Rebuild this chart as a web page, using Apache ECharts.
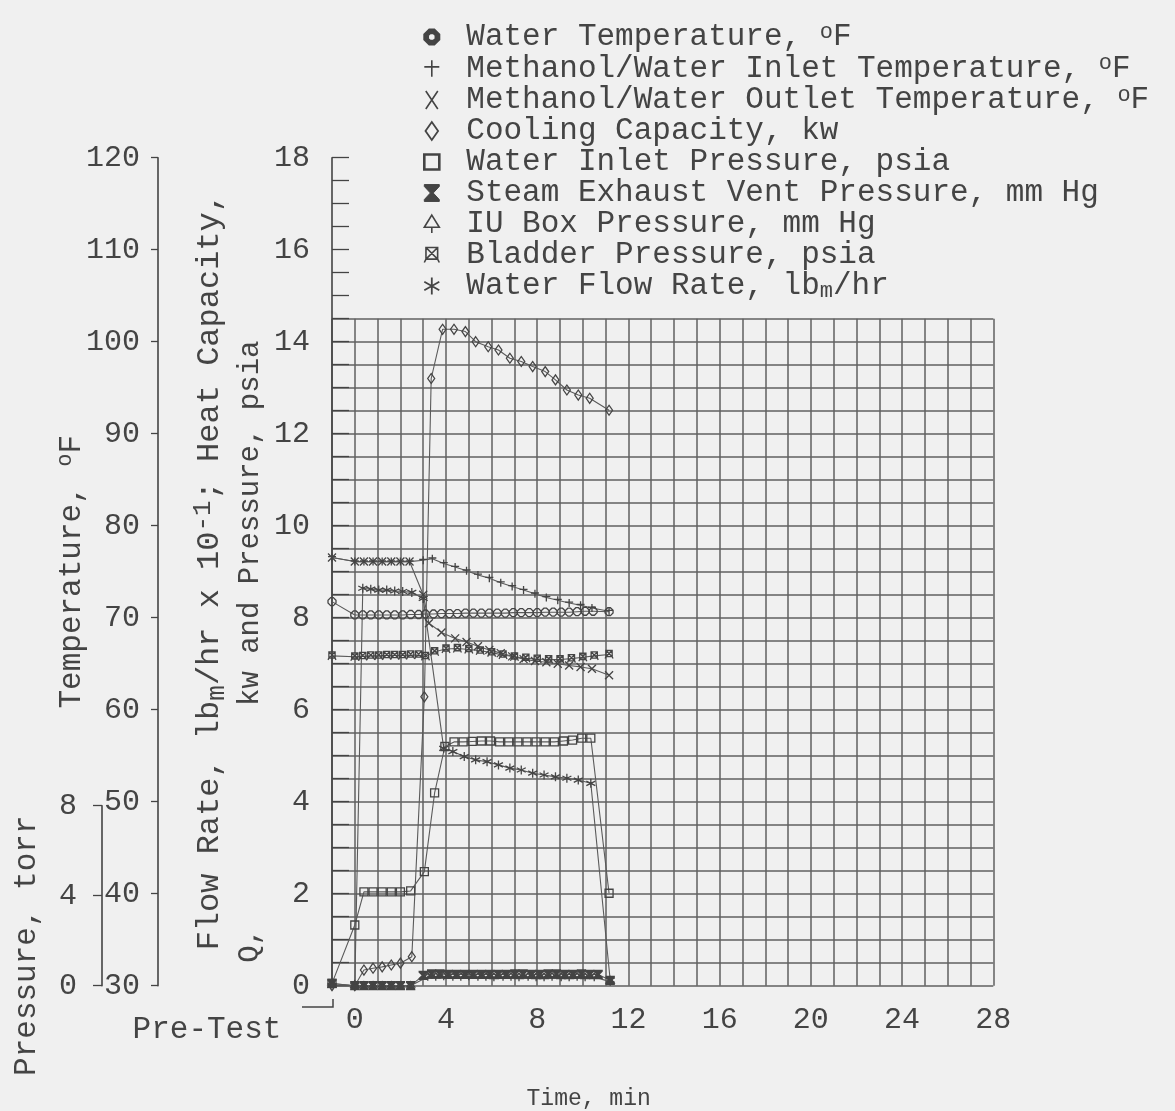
<!DOCTYPE html>
<html>
<head>
<meta charset="utf-8">
<script src="https://cdn.jsdelivr.net/npm/echarts@6/dist/echarts.min.js"></script>
<style>
html,body{margin:0;padding:0;background:#f0f0f0;}
#c{width:1175px;height:1111px;}
</style>
</head>
<body>
<div id="c"></div>
<script>
// ---------------- DATA ----------------
// Time in minutes (-1 = pre-test point)
const waterTempTime = [-1, 0, 0.35, 0.7, 1.05, 1.4, 1.75, 2.1, 2.45, 2.8, 3.1, 3.45, 3.8, 4.15, 4.5, 4.85, 5.2, 5.55, 5.9, 6.25, 6.6, 6.95, 7.3, 7.65, 8.0, 8.35, 8.7, 9.05, 9.4, 9.75, 10.1, 10.45, 11.15];
const waterTempF    = [71.75, 70.3, 70.3, 70.3, 70.3, 70.3, 70.3, 70.3, 70.35, 70.35, 70.4, 70.4, 70.45, 70.45, 70.45, 70.5, 70.5, 70.5, 70.5, 70.5, 70.5, 70.55, 70.55, 70.55, 70.55, 70.6, 70.6, 70.6, 70.6, 70.65, 70.7, 70.7, 70.65];

const inletTime = [-1, 0, 0.4, 0.8, 1.2, 1.6, 2.0, 2.4, 3.0, 3.4, 3.9, 4.4, 4.9, 5.4, 5.9, 6.4, 6.9, 7.4, 7.9, 8.4, 8.9, 9.4, 9.9, 10.4, 11.15];
const inletF    = [76.55, 76.1, 76.1, 76.1, 76.1, 76.1, 76.1, 76.1, 76.25, 76.4, 75.9, 75.5, 75.1, 74.65, 74.3, 73.8, 73.4, 73.0, 72.6, 72.2, 71.9, 71.6, 71.35, 71.05, 70.7];

const outletTime = [-1, 0, 0.4, 0.8, 1.2, 1.6, 2.0, 2.4, 3.0, 3.25, 3.8, 4.4, 4.9, 5.4, 5.9, 6.4, 6.9, 7.4, 7.9, 8.4, 8.9, 9.4, 9.9, 10.4, 11.15];
const outletF    = [76.55, 76.1, 76.1, 76.1, 76.1, 76.1, 76.1, 76.1, 72.5, 69.4, 68.4, 67.75, 67.35, 66.9, 66.5, 66.15, 65.8, 65.5, 65.3, 65.15, 65.0, 64.8, 64.65, 64.45, 63.75];

const coolTime = [-1, 0, 0.4, 0.8, 1.2, 1.6, 2.0, 2.5, 3.05, 3.35, 3.85, 4.35, 4.85, 5.3, 5.85, 6.3, 6.8, 7.3, 7.8, 8.35, 8.8, 9.3, 9.8, 10.3, 11.15];
const coolKw   = [0, 0, 0.34, 0.38, 0.41, 0.45, 0.49, 0.63, 6.28, 13.2, 14.27, 14.27, 14.22, 14.0, 13.89, 13.82, 13.64, 13.57, 13.46, 13.35, 13.17, 12.95, 12.84, 12.77, 12.51];

const inletPressTime = [-1, 0, 0.4, 0.8, 1.2, 1.6, 2.0, 2.45, 3.05, 3.5, 3.95, 4.35, 4.75, 5.15, 5.55, 5.95, 6.35, 6.75, 7.15, 7.55, 7.95, 8.35, 8.75, 9.15, 9.55, 9.95, 10.35, 11.15];
const inletPressPsia = [0.05, 1.32, 2.04, 2.04, 2.04, 2.04, 2.04, 2.06, 2.48, 4.19, 5.2, 5.3, 5.3, 5.31, 5.32, 5.32, 5.3, 5.3, 5.3, 5.3, 5.3, 5.3, 5.3, 5.32, 5.34, 5.38, 5.38, 2.01];

const steamTime = [-1, 0, 0.4, 0.8, 1.2, 1.6, 2.0, 2.45, 3.0, 3.37, 3.73, 4.1, 4.46, 4.83, 5.19, 5.56, 5.92, 6.29, 6.65, 7.02, 7.38, 7.75, 8.11, 8.48, 8.84, 9.21, 9.57, 9.94, 10.3, 10.67, 11.2];
const steamTorr = [0.1, 0, 0, 0, 0, 0, 0, 0, 0.46, 0.52, 0.52, 0.5, 0.5, 0.5, 0.5, 0.5, 0.5, 0.5, 0.5, 0.52, 0.52, 0.5, 0.5, 0.52, 0.52, 0.5, 0.5, 0.52, 0.5, 0.5, 0.24];

const iuTime = [-1, 0, 0.4, 0.8, 1.2, 1.6, 2.0, 2.45, 3.2, 3.55, 3.9, 4.3, 4.65, 5.0, 5.4, 5.75, 6.1, 6.5, 6.85, 7.2, 7.6, 7.95, 8.3, 8.65, 9.05, 9.4, 9.75, 10.1, 10.5, 11.2];
const iuTorr = [0.1, 0, 0, 0, 0, 0, 0, 0, 0.4, 0.4, 0.42, 0.4, 0.4, 0.42, 0.4, 0.4, 0.38, 0.4, 0.4, 0.38, 0.4, 0.38, 0.38, 0.4, 0.38, 0.38, 0.4, 0.38, 0.38, 0.18];

const bladderTime = [-1, 0, 0.35, 0.7, 1.05, 1.4, 1.75, 2.1, 2.45, 2.8, 3.1, 3.5, 4.0, 4.5, 5.0, 5.5, 6.0, 6.5, 7.0, 7.5, 8.0, 8.5, 9.0, 9.5, 10.0, 10.5, 11.15];
const bladderPsia = [7.17, 7.15, 7.16, 7.17, 7.17, 7.18, 7.18, 7.18, 7.19, 7.19, 7.16, 7.26, 7.32, 7.33, 7.31, 7.28, 7.24, 7.19, 7.15, 7.12, 7.1, 7.09, 7.09, 7.11, 7.14, 7.17, 7.2];

// Water flow rate in lbm/hr x 10^-1 (axis units)
const flowTime = [-1, 0, 0.35, 0.7, 1.05, 1.4, 1.75, 2.1, 2.5, 3.0, 3.9, 4.3, 4.8, 5.3, 5.8, 6.3, 6.8, 7.3, 7.8, 8.3, 8.8, 9.3, 9.8, 10.35, 11.2];
const flowTenth = [0, 0, 8.64, 8.62, 8.6, 8.6, 8.58, 8.57, 8.55, 8.42, 5.16, 5.09, 4.98, 4.91, 4.87, 4.8, 4.73, 4.69, 4.62, 4.58, 4.54, 4.51, 4.47, 4.4, 0.12];

// Axis tick labels
const timeTickLabels = [0, 4, 8, 12, 16, 20, 24, 28];
const preTestLabel = 'Pre-Test';
const seriesNames = [
  'Water Temperature, °F',
  'Methanol/Water Inlet Temperature, °F',
  'Methanol/Water Outlet Temperature, °F',
  'Cooling Capacity, kw',
  'Water Inlet Pressure, psia',
  'Steam Exhaust Vent Pressure, mm Hg',
  'IU Box Pressure, mm Hg',
  'Bladder Pressure, psia',
  'Water Flow Rate, lbm/hr'
];
const legendRichText = [
  '{a|Water Temperature, }{p|o}{a|F}',
  '{a|Methanol/Water Inlet Temperature, }{p|o}{a|F}',
  '{a|Methanol/Water Outlet Temperature, }{p|o}{a|F}',
  '{a|Cooling Capacity, kw}',
  '{a|Water Inlet Pressure, psia}',
  '{a|Steam Exhaust Vent Pressure, mm Hg}',
  '{a|IU Box Pressure, mm Hg}',
  '{a|Bladder Pressure, psia}',
  '{a|Water Flow Rate, lb}{s|m}{a|/hr}'
];

// ---------------- STYLE ----------------
const FONT = '"Liberation Mono", "DejaVu Sans Mono", monospace';
const INK = '#444444';
const LINE = '#5a5a5a';
const PAPER = '#606060';

const L = 332, R = 1175 - 993.3, B = 1111 - 985.7;

const P = {
  ringFilled: 'path://M7,1L13,1L19,7L19,13L13,19L7,19L1,13L1,7Z M8,5.5L5.5,8L5.5,12L8,14.5L12,14.5L14.5,12L14.5,8L12,5.5Z',
  oct: 'path://M7,1L13,1L19,7L19,13L13,19L7,19L1,13L1,7Z',
  plus: 'path://M10,0L10,20M1,8L19,8',
  cross: 'path://M4,1L16,19M16,1L4,19',
  diamond: 'path://M10,0L17,10L10,20L3,10Z',
  square: 'path://M2,2L18,2L18,18L2,18Z',
  hourglass: 'path://M2,1L18,1L18,3L11.5,10L18,17L18,19L2,19L2,17L8.5,10L2,3Z',
  triStem: 'path://M10,1L18,14L2,14Z M10,14L10,20',
  boxX: 'path://M3,2L17,2L17,16L3,16Z M3,2L17,16 M17,2L3,16 M3,16L1,20 M17,16L19,20',
  star: 'path://M10,0L10,20 M1.3,5L18.7,15 M18.7,5L1.3,15'
};

function pts(ts, vs) { return ts.map((t, i) => [t, vs[i]]); }
function mk(name, ts, vs, sym, size, fill, xi, yi) {
  return {
    type: 'line', name: name, data: pts(ts, vs),
    xAxisIndex: xi, yAxisIndex: yi,
    symbol: sym, symbolSize: size, showSymbol: true, showAllSymbol: true,
    clip: false, animation: false,
    lineStyle: { color: LINE, width: 1.1 },
    itemStyle: { color: fill, borderColor: INK, borderWidth: 1.3 },
    emphasis: { disabled: true }, z: 3
  };
}
const NONE = 'rgba(0,0,0,0)';

const series = [
  mk(seriesNames[0], waterTempTime, waterTempF, P.oct, 8, NONE, 0, 1),
  mk(seriesNames[1], inletTime, inletF, P.plus, 8, NONE, 0, 1),
  mk(seriesNames[2], outletTime, outletF, P.cross, 8, NONE, 0, 1),
  mk(seriesNames[3], coolTime, coolKw, P.diamond, [7, 10], NONE, 0, 0),
  mk(seriesNames[4], inletPressTime, inletPressPsia, P.square, 8, NONE, 0, 0),
  mk(seriesNames[5], steamTime, steamTorr, P.hourglass, 8, INK, 2, 3),
  mk(seriesNames[6], iuTime, iuTorr, P.triStem, 8, NONE, 2, 3),
  mk(seriesNames[7], bladderTime, bladderPsia, P.boxX, 8, NONE, 0, 0),
  mk(seriesNames[8], flowTime, flowTenth, P.star, 9, NONE, 0, 0)
];

const legendIcons = [P.ringFilled, P.plus, P.cross, P.diamond, P.square, P.hourglass, P.triStem, P.boxX, P.star];
const legendFill = [INK, NONE, NONE, NONE, NONE, INK, NONE, NONE, NONE];
const legendW = [2, 1.6, 1.6, 1.8, 2.6, 1, 1.6, 1.6, 1.8];

const legendRich = {
  a: { fontFamily: FONT, fontSize: 31, color: INK, lineHeight: 32, verticalAlign: 'middle' },
  p: { fontFamily: FONT, fontSize: 22, color: INK, lineHeight: 10, verticalAlign: 'top' },
  s: { fontFamily: FONT, fontSize: 22, color: INK, lineHeight: 10, verticalAlign: 'bottom' }
};

const tickLabel = { fontFamily: FONT, fontSize: 30, color: INK };

const option = {
  backgroundColor: '#f0f0f0',
  animation: false,
  grid: [
    { left: L, right: R, top: 157.7, bottom: B, containLabel: false, outerBoundsMode: 'none' },
    { left: L, right: R, top: 318.7, bottom: B, containLabel: false, outerBoundsMode: 'none' },
    { left: L, right: R, top: 805.7, bottom: B, containLabel: false, outerBoundsMode: 'none' }
  ],
  legend: {
    orient: 'vertical', left: 418, top: 16,
    itemWidth: 15, itemHeight: 18, itemGap: 0,
    selectedMode: false,
    data: seriesNames.map((n, i) => ({
      name: n, icon: legendIcons[i],
      itemStyle: { color: legendFill[i], borderColor: INK, borderWidth: legendW[i] }
    })),
    formatter: function (name) { return legendRichText[seriesNames.indexOf(name)]; },
    textStyle: { fontFamily: FONT, fontSize: 31, color: INK, padding: [0, 0, 0, 22], rich: legendRich }
  },
  xAxis: [
    {
      gridIndex: 0, type: 'value', min: -1, max: 28, interval: 1,
      axisLine: { show: false, onZero: false }, axisTick: { show: false }, splitLine: { show: false },
      axisLabel: {
        show: true, margin: 19, showMinLabel: true, showMaxLabel: true,
        fontFamily: FONT, fontSize: 30, color: INK,
        formatter: function (v) {
          if (v === -1) return '{pre|' + preTestLabel + '}';
          return timeTickLabels.indexOf(v) >= 0 ? String(v) : '';
        },
        rich: { pre: { fontFamily: FONT, fontSize: 31, color: INK, padding: [10, 250, 0, 0] } }
      },
      name: 'Time, min', nameLocation: 'middle', nameGap: 100, nameMoveOverlap: false,
      nameTextStyle: { fontFamily: FONT, fontSize: 23, color: INK, lineHeight: 26, padding: [0, 148, 0, 0] }
    },
    {
      gridIndex: 1, type: 'value', min: -1, max: 28, interval: 1,
      axisLine: { show: false, onZero: false }, axisTick: { show: false }, axisLabel: { show: false },
      splitLine: { show: true, showMinLine: true, showMaxLine: true, lineStyle: { color: PAPER, width: 1.5 } }
    },
    { gridIndex: 2, type: 'value', min: -1, max: 28, show: false, axisLine: { onZero: false } }
  ],
  yAxis: [
    {
      gridIndex: 0, type: 'value', min: 0, max: 18, interval: 2, position: 'left',
      axisLine: { show: true, onZero: false, lineStyle: { color: INK, width: 1.6 } },
      axisTick: { show: true, inside: true, length: 17, lineStyle: { color: INK, width: 1.3 } },
      minorTick: { show: true, splitNumber: 4, length: 17, lineStyle: { color: INK, width: 1.3 } },
      splitLine: { show: false },
      axisLabel: { margin: 22, showMinLabel: true, showMaxLabel: true, ...tickLabel },
      name: '{a|Flow Rate, lb}{s|m}{a|/hr x 10}{p|-1}{a|; Heat Capacity,}\n{q|Q,}{b|kw and Pressure, psia}',
      nameLocation: 'middle', nameRotate: 90, nameGap: 62, nameMoveOverlap: false,
      nameTextStyle: {
        fontFamily: FONT, fontSize: 32, color: INK,
        rich: {
          a: { fontFamily: FONT, fontSize: 32, color: INK, lineHeight: 40, verticalAlign: 'middle' },
          s: { fontFamily: FONT, fontSize: 26, color: INK, lineHeight: 14, verticalAlign: 'bottom' },
          p: { fontFamily: FONT, fontSize: 26, color: INK, lineHeight: 14, verticalAlign: 'top' },
          q: { fontFamily: FONT, fontSize: 29, color: INK, lineHeight: 40, verticalAlign: 'middle', padding: [0, 222, 0, 0] },
          b: { fontFamily: FONT, fontSize: 29, color: INK, lineHeight: 40, verticalAlign: 'middle', padding: [0, 160, 0, 0] }
        }
      }
    },
    {
      gridIndex: 0, type: 'value', min: 30, max: 120, interval: 10, position: 'left', offset: L - 158,
      axisLine: { show: true, onZero: false, lineStyle: { color: INK, width: 1.6 } },
      axisTick: { show: true, inside: false, length: 7, lineStyle: { color: INK, width: 1.3 } },
      splitLine: { show: false },
      axisLabel: { margin: 18, showMinLabel: true, showMaxLabel: true, ...tickLabel },
      name: '{a|Temperature, }{p|o}{a|F}',
      nameLocation: 'middle', nameRotate: 90, nameGap: 68, nameMoveOverlap: false,
      nameTextStyle: {
        fontFamily: FONT, fontSize: 31, color: INK,
        rich: {
          a: { fontFamily: FONT, fontSize: 31, color: INK, lineHeight: 36, verticalAlign: 'middle' },
          p: { fontFamily: FONT, fontSize: 22, color: INK, lineHeight: 12, verticalAlign: 'top' }
        }
      }
    },
    {
      gridIndex: 1, type: 'value', min: 0, max: 14.5, interval: 0.5,
      axisLine: { show: false, onZero: false }, axisTick: { show: false }, axisLabel: { show: false },
      splitLine: { show: true, showMinLine: true, showMaxLine: true, lineStyle: { color: PAPER, width: 1.5 } }
    },
    {
      gridIndex: 2, type: 'value', min: 0, max: 8, interval: 4, position: 'left', offset: L - 102,
      axisLine: { show: true, onZero: false, lineStyle: { color: INK, width: 1.6 } },
      axisTick: { show: true, inside: false, length: 9, lineStyle: { color: INK, width: 1.3 } },
      splitLine: { show: false },
      axisLabel: { margin: 25, showMinLabel: true, showMaxLabel: true, ...tickLabel },
      name: 'Pressure, torr',
      nameLocation: 'middle', nameRotate: 90, nameGap: 57, nameMoveOverlap: false,
      nameTextStyle: { fontFamily: FONT, fontSize: 31, color: INK, lineHeight: 36, padding: [0, 100, 0, 0] }
    }
  ],
  graphic: [
    {
      type: 'polyline', silent: true,
      shape: { points: [[302, 1007], [333, 1007], [333, 999]] },
      style: { stroke: INK, lineWidth: 1.5, fill: null }
    }
  ],
  series: series
};

const chart = echarts.init(document.getElementById('c'), null, { renderer: 'canvas' });
chart.setOption(option);
</script>
</body>
</html>
